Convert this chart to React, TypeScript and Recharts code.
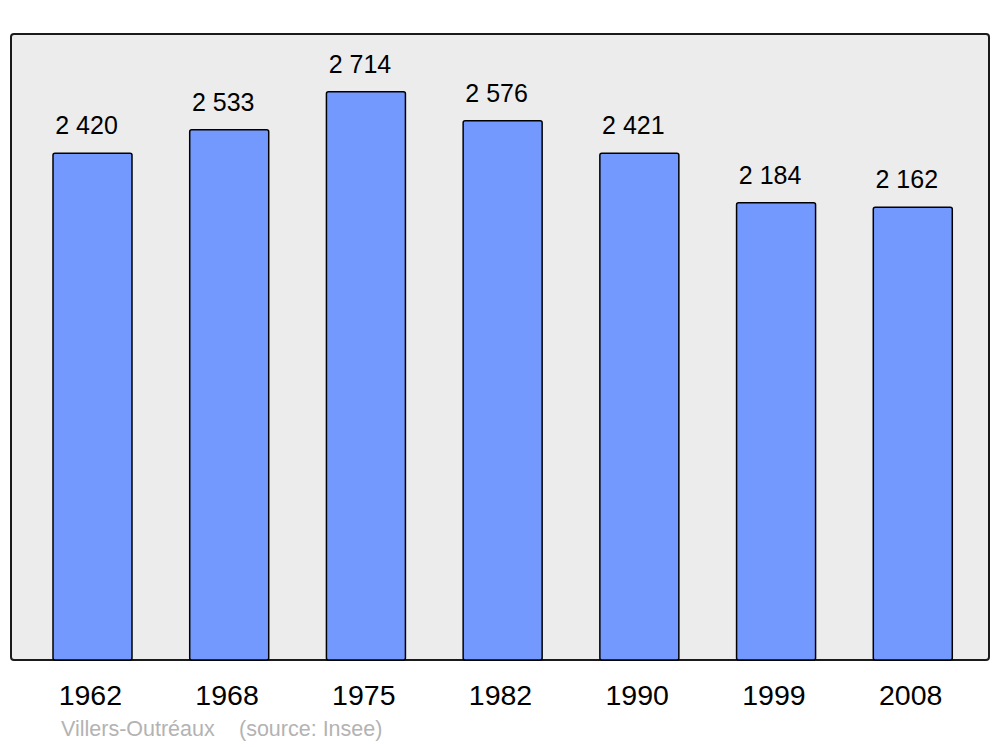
import { BarChart, Bar, XAxis, YAxis, LabelList } from 'recharts';

const years = ['1962', '1968', '1975', '1982', '1990', '1999', '2008'];
const population = [2420, 2533, 2714, 2576, 2421, 2184, 2162];
const commune = 'Villers-Outréaux';
const source = '(source: Insee)';

const data = years.map((year, i) => ({ year, population: population[i] }));

const FONT = '"Liberation Sans", Arial, sans-serif';

const fmt = (v: number) => String(v).replace(/\B(?=(\d{3})+(?!\d))/g, ' ');

function YearTick({ x, y, payload }: any) {
  return (
    <text x={x - 2} y={y} dy={37} textAnchor="middle" fontSize={28.5} fontFamily={FONT} fill="#000">
      {payload.value}
    </text>
  );
}

function ValueLabel({ x, y, width, value }: any) {
  return (
    <text x={x + width / 2 - 6} y={y - 19} textAnchor="middle" fontSize={25} fontFamily={FONT} fill="#000">
      {fmt(Number(value))}
    </text>
  );
}

export default function App() {
  return (
    <div style={{ position: 'absolute', left: 0, top: 0, width: 1000, height: 747, background: '#fff' }}>
      <div
        style={{
          position: 'absolute',
          left: 10,
          top: 33,
          width: 980,
          height: 628,
          boxSizing: 'border-box',
          border: '2.5px solid #1a1a1a',
          borderRadius: 4,
          background: '#ececec',
        }}
      />
      <div style={{ position: 'absolute', left: 0, top: 0 }}>
        <BarChart width={1000} height={747} data={data} margin={{ top: 34, right: 19, bottom: 27, left: 24 }}>
          <XAxis dataKey="year" axisLine={false} tickLine={false} height={60} interval={0} tick={<YearTick />} />
          <YAxis hide domain={[0, 2990]} />
          <Bar
            dataKey="population"
            fill="#7399ff"
            stroke="#000"
            strokeWidth={1.5}
            barSize={79}
            radius={2}
            isAnimationActive={false}
          >
            <LabelList dataKey="population" content={<ValueLabel />} />
          </Bar>
        </BarChart>
      </div>
      <div
        style={{
          position: 'absolute',
          left: 61,
          top: 717,
          fontFamily: FONT,
          fontSize: 21.5,
          lineHeight: '25px',
          color: '#b3b3b3',
          whiteSpace: 'pre',
        }}
      >
        {commune}
      </div>
      <div
        style={{
          position: 'absolute',
          left: 239,
          top: 717,
          fontFamily: FONT,
          fontSize: 21.5,
          lineHeight: '25px',
          color: '#b3b3b3',
          whiteSpace: 'pre',
        }}
      >
        {source}
      </div>
    </div>
  );
}
